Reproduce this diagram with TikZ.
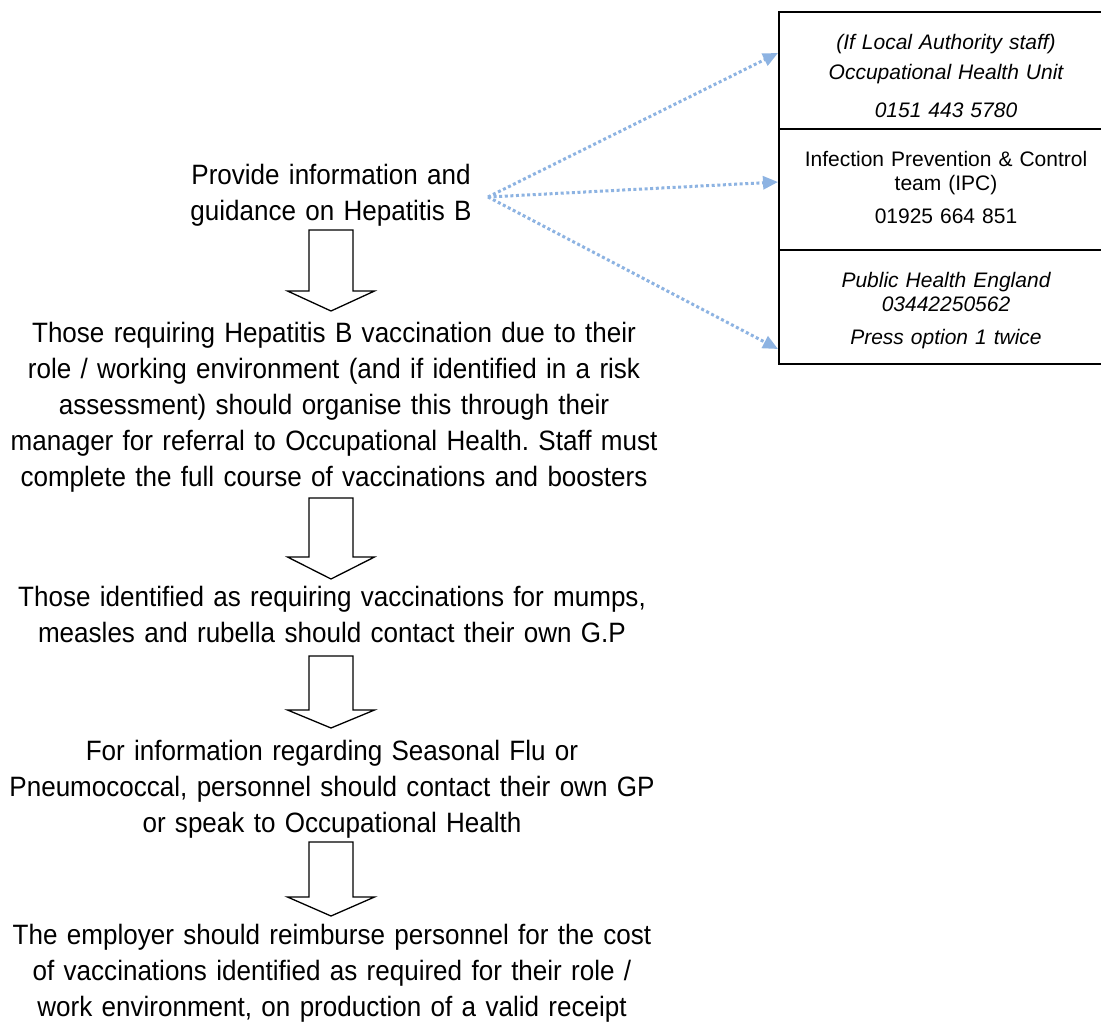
\documentclass[tikz,border=0pt]{standalone}
\usepackage{fontspec}
\setmainfont{Liberation Sans}
\newfontfamily\narrowsans[FakeStretch=0.93]{Liberation Sans}
\usetikzlibrary{arrows.meta}
\frenchspacing
\definecolor{dotblue}{HTML}{8DB3E2}
\tikzset{
  txt/.style={anchor=base, align=center, text width=720pt, inner sep=0pt,
    font=\narrowsans\fontsize{28}{36.2}\selectfont},
  boxtxt/.style={anchor=base, align=center, text width=330pt, inner sep=0pt,
    font=\fontsize{21}{24}\selectfont},
  cell/.style={draw, line width=1.6pt, minimum width=337pt, inner sep=0pt, anchor=north west},
  blockarrow/.style={draw, line width=1.3pt, fill=white, line join=miter},
  dotarrow/.style={dotblue, line width=3pt, dash pattern=on 3pt off 2.6pt,
    -{Triangle[length=15pt, width=13pt]}}
}
\newcommand{\downblock}[4]{%
  \path[blockarrow] (#1-22,#2) -- (#1+22,#2) -- (#1+22,#3) -- (#1+43.5,#3)
    -- (#1,#4) -- (#1-43.5,#3) -- (#1-22,#3) -- cycle;}
\begin{document}
\begin{tikzpicture}[x=1pt, y=-1pt]
\useasboundingbox (0,0) rectangle (1101,1023);
\clip (0,0) rectangle (1101,1023);
\fill[white] (0,0) rectangle (1101,1023);

% main flow text
\node[txt] (b1) at (331,184) {Provide information and\\guidance on Hepatitis B};
\node[txt] (b2) at (334,342) {Those requiring Hepatitis B vaccination due to their\\role / working environment (and if identified in a risk\\assessment) should organise this through their\\manager for referral to Occupational Health. Staff must\\complete the full course of vaccinations and boosters};
\node[txt] (b3) at (332,606) {Those identified as requiring vaccinations for mumps,\\measles and rubella should contact their own G.P};
\node[txt] (b4) at (332,760) {For information regarding Seasonal Flu or\\Pneumococcal, personnel should contact their own GP\\or speak to Occupational Health};
\node[txt] (b5) at (332,944) {The employer should reimburse personnel for the cost\\of vaccinations identified as required for their role /\\work environment, on production of a valid receipt};

% block arrows
\downblock{331}{230}{291}{311}
\downblock{331}{498}{557}{579}
\downblock{331}{656}{710}{728}
\downblock{331}{842}{897}{916}

% contact box
\node[cell, minimum height=117pt] (c1) at (778,11) {};
\node[cell, minimum height=121pt] (c2) at (778,128) {};
\node[cell, minimum height=114pt] (c3) at (778,249) {};

\node[boxtxt, font=\fontsize{21}{30}\itshape] (t1) at (946,49) {(If Local Authority staff)\\Occupational Health Unit\\[8pt]0151 443 5780};
\node[boxtxt] (t2) at (946,166) {Infection Prevention \& Control\\team (IPC)\\[9pt]01925 664 851};
\node[boxtxt, font=\fontsize{21}{24}\itshape] (t3) at (946,287) {Public Health England\\03442250562\\[9pt]Press option 1 twice};

% dotted connectors
\coordinate (src) at (488,197);
\coordinate (e1) at (778,53);
\coordinate (e2) at (778,182);
\coordinate (e3) at (778,349);
\draw[dotarrow] (src) -- (e1);
\draw[dotarrow] (src) -- (e2);
\draw[dotarrow] (src) -- (e3);
\end{tikzpicture}
\end{document}
